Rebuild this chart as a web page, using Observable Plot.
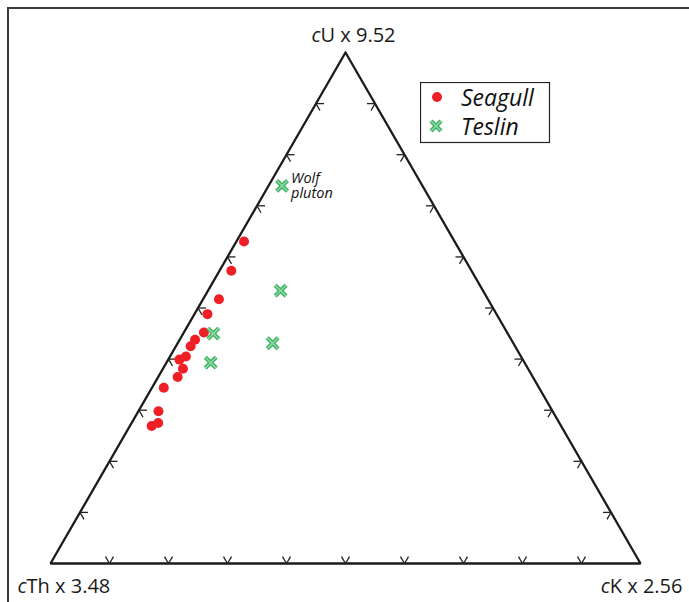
<!DOCTYPE html>
<html>
<head>
<meta charset="utf-8">
<script src="https://cdn.jsdelivr.net/npm/d3@7"></script>
<script src="https://cdn.jsdelivr.net/npm/@observablehq/plot@0.6"></script>
<style>
  body { margin: 0; background: #fff; }
  #wrap { position: relative; width: 689px; height: 602px; overflow: hidden; font-family: "Open Sans", Lato, sans-serif; }
  #frame { position: absolute; left: 7px; top: 7px; width: 720px; height: 640px; border-left: 2px solid #3c3c3c; border-top: 2px solid #3c3c3c; }
  #chart { position: absolute; left: 0; top: 0; }
  #legend { position: absolute; left: 420px; top: 82px; }
</style>
</head>
<body>
<div id="wrap">
  <div id="frame"></div>
  <div id="chart"></div>
  <div id="legend"></div>
</div>
<script>
// ---- data (percent of cU, cTh, cK) ----
const seriesNames = ["Seagull", "Teslin"];
const seriesColors = ["#ee2026", "#3cae5e"];

const seagullU  = [63.0, 57.3, 51.7, 48.8, 45.2, 43.8, 42.5, 40.5, 39.9, 38.1, 36.5, 34.4, 29.8, 27.5, 26.9];
const seagullTh = [35.7, 40.7, 45.6, 49.0, 51.4, 53.6, 55.0, 56.8, 58.2, 58.5, 60.2, 63.6, 66.8, 68.0, 69.4];
const seagullK  = [ 1.3,  2.0,  2.7,  2.2,  3.4,  2.6,  2.5,  2.7,  1.9,  3.4,  3.3,  2.0,  3.4,  4.5,  3.7];

const teslinU  = [73.9, 53.4, 43.1, 45.0, 39.3];
const teslinTh = [23.8, 34.3, 40.8, 49.9, 53.2];
const teslinK  = [ 2.3, 12.3, 16.1,  5.1,  7.5];

const annotationLines = ["Wolf", "pluton"];
const annotationIndex = 0; // Teslin point

const vertexNames = ["U", "Th", "K"];
const vertexFactors = ["9.52", "3.48", "2.56"];
const tickFractions = [0.1, 0.2, 0.3, 0.4, 0.5, 0.6, 0.7, 0.8, 0.9];

// ---- ternary projection ----
const S3 = Math.sqrt(3) / 2;
const toX = (u, th, k) => (k + u / 2) / (u + th + k);
const toY = (u, th, k) => (u * S3) / (u + th + k);

const seagull = seagullU.map((u, i) => ({x: toX(u, seagullTh[i], seagullK[i]), y: toY(u, seagullTh[i], seagullK[i])}));
const teslin = teslinU.map((u, i) => ({x: toX(u, teslinTh[i], teslinK[i]), y: toY(u, teslinTh[i], teslinK[i])}));

const vertices = [
  {u: 1, th: 0, k: 0},
  {u: 0, th: 1, k: 0},
  {u: 0, th: 0, k: 1}
].map(v => ({x: toX(v.u, v.th, v.k), y: toY(v.u, v.th, v.k)}));
const outline = [...vertices, vertices[0]];

// chevron tick arms (length in data units: ~8px of a 590px side)
const L = 8 / 590;
const arms = [];
for (const t of tickFractions) {
  // bottom edge (u = 0, k = t)
  let p = {x: toX(0, 1 - t, t), y: toY(0, 1 - t, t)};
  arms.push({x1: p.x, y1: p.y, x2: p.x + L * 0.5, y2: p.y + L * S3});
  arms.push({x1: p.x, y1: p.y, x2: p.x - L * 0.5, y2: p.y + L * S3});
  // left edge (k = 0, u = t)
  p = {x: toX(t, 1 - t, 0), y: toY(t, 1 - t, 0)};
  arms.push({x1: p.x, y1: p.y, x2: p.x + L, y2: p.y});
  arms.push({x1: p.x, y1: p.y, x2: p.x + L * 0.5, y2: p.y - L * S3});
  // right edge (th = 0, u = t)
  p = {x: toX(t, 0, 1 - t), y: toY(t, 0, 1 - t)};
  arms.push({x1: p.x, y1: p.y, x2: p.x - L, y2: p.y});
  arms.push({x1: p.x, y1: p.y, x2: p.x - L * 0.5, y2: p.y - L * S3});
}

const vertexLabels = vertices.map((v, i) => ({
  ...v,
  text: "c" + vertexNames[i] + " x " + vertexFactors[i]
}));

const FONT = "'Open Sans', Lato, sans-serif";
const wolf = teslin[annotationIndex];

const chart = Plot.plot({
  width: 689,
  height: 602,
  marginLeft: 50,
  marginRight: 49,
  marginTop: 52,
  marginBottom: 39,
  x: {domain: [0, 1], axis: null},
  y: {domain: [0, S3], axis: null},
  style: {background: "transparent", fontFamily: FONT},
  marks: [
    Plot.line(outline, {x: "x", y: "y", stroke: "#1b1b1b", strokeWidth: 2.3, strokeLinejoin: "miter"}),
    Plot.link(arms, {x1: "x1", y1: "y1", x2: "x2", y2: "y2", stroke: "#222", strokeWidth: 1.3}),
    Plot.dot(seagull, {x: "x", y: "y", r: 5, fill: seriesColors[0], stroke: "none"}),
    Plot.dot(teslin, {x: "x", y: "y", r: 5, symbol: "times", stroke: seriesColors[1], strokeWidth: 4.2}),
    Plot.dot(teslin, {x: "x", y: "y", r: 5, symbol: "times", stroke: "#8adba4", strokeWidth: 1.6}),
    Plot.text([wolf], {x: "x", y: "y", text: () => annotationLines[0], textAnchor: "start", dx: 9, dy: -3, lineAnchor: "bottom", fontSize: 14.5, fontStyle: "italic", fill: "#111"}),
    Plot.text([wolf], {x: "x", y: "y", text: () => annotationLines[1], textAnchor: "start", dx: 9, dy: 2, lineAnchor: "top", fontSize: 14.5, fontStyle: "italic", fill: "#111"}),
    Plot.text([vertexLabels[0]], {x: "x", y: "y", text: "text", textAnchor: "middle", lineAnchor: "bottom", dx: 8, dy: -11, fontSize: 20, fill: "#1a1a1a"}),
    Plot.text([vertexLabels[1]], {x: "x", y: "y", text: "text", textAnchor: "start", lineAnchor: "bottom", dx: -33, dy: 29, fontSize: 20, fill: "#1a1a1a"}),
    Plot.text([vertexLabels[2]], {x: "x", y: "y", text: "text", textAnchor: "end", lineAnchor: "bottom", dx: 42, dy: 29, fontSize: 20, fill: "#1a1a1a"})
  ]
});

// italic "c" prefix on vertex labels
d3.select(chart).selectAll("text").each(function () {
  const s = this.textContent;
  if (vertexLabels.some(v => v.text === s)) {
    const sel = d3.select(this);
    sel.text(null);
    sel.append("tspan").attr("font-style", "italic").text("c");
    sel.append("tspan").text(s.slice(1));
  }
});
document.getElementById("chart").append(chart);

// legend
const lg = d3.select("#legend").append("svg").attr("width", 131).attr("height", 62);
lg.append("rect").attr("x", 0.5).attr("y", 0.5).attr("width", 129).attr("height", 60).attr("fill", "#fff").attr("stroke", "#222").attr("stroke-width", 1.2);
const rows = lg.selectAll("g.row").data(seriesNames).join("g").attr("class", "row")
  .attr("transform", (d, i) => `translate(0, ${i === 0 ? 15 : 44})`);
rows.filter((d, i) => i === 0).append("circle").attr("cx", 17).attr("cy", 0).attr("r", 5).attr("fill", seriesColors[0]);
rows.filter((d, i) => i === 1).append("path").attr("d", "M11,-5L21,5M11,5L21,-5").attr("stroke", seriesColors[1]).attr("stroke-width", 4.2).attr("fill", "none");
rows.filter((d, i) => i === 1).append("path").attr("d", "M11,-5L21,5M11,5L21,-5").attr("stroke", "#8adba4").attr("stroke-width", 1.6).attr("fill", "none");
rows.append("text").attr("x", 41).attr("y", 9).attr("font-family", FONT).attr("font-size", 23).attr("font-style", "italic").attr("fill", "#111").text(d => d);
</script>
</body>
</html>
